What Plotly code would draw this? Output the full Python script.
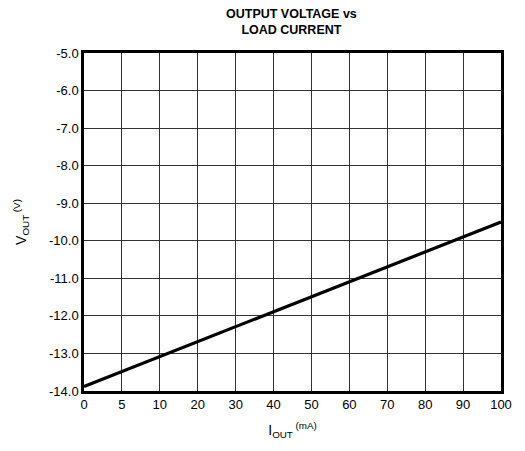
import plotly.graph_objects as go

x_tick_labels = ["0", "5", "10", "20", "30", "40", "50", "60", "70", "80", "90", "100"]
x_tick_pos = list(range(len(x_tick_labels)))
y_ticks = [-5.0, -6.0, -7.0, -8.0, -9.0, -10.0, -11.0, -12.0, -13.0, -14.0]
y_tick_labels = ["-5.0", "-6.0", "-7.0", "-8.0", "-9.0", "-10.0", "-11.0", "-12.0", "-13.0", "-14.0"]

line_x = [0, 11]
line_v = [-13.88, -9.5]

title_lines = ["OUTPUT VOLTAGE vs", "LOAD CURRENT"]

fig = go.Figure()
fig.add_trace(go.Scatter(x=line_x, y=line_v, mode="lines",
                         line=dict(color="black", width=3.2), showlegend=False))

font = "Liberation Sans, Arial, sans-serif"
fig.update_layout(
    width=509, height=435,
    margin=dict(l=76, r=16, t=45, b=52, autoexpand=False),
    paper_bgcolor="white", plot_bgcolor="white",
    font=dict(family=font, size=13, color="black"),
)
fig.add_annotation(text="<b>" + "<br>".join(title_lines) + "</b>", xref="paper", yref="paper",
                   x=0.497, y=1.092, xanchor="center", yanchor="middle",
                   showarrow=False, font=dict(size=12.5, family=font))

fig.update_xaxes(range=[0, 11], tickvals=x_tick_pos, ticktext=x_tick_labels,
                 showgrid=True, gridcolor="#333", gridwidth=1, automargin=False,
                 showline=True, linecolor="black", linewidth=2.5, mirror=True,
                 ticks="", zeroline=False, tickfont=dict(size=13),
                 title=dict(text="I<sub>OUT</sub><sup> (mA)</sup>", font=dict(size=14), standoff=14))
fig.update_yaxes(range=[-14, -5], tickvals=y_ticks, ticktext=y_tick_labels,
                 showgrid=True, gridcolor="#333", gridwidth=1, automargin=False,
                 showline=True, linecolor="black", linewidth=2.5, mirror=True,
                 ticks="", zeroline=False, tickfont=dict(size=13),
                 title=dict(text="V<sub>OUT</sub><sup> (V)</sup>", font=dict(size=14), standoff=20))

fig.write_html("out.html")
